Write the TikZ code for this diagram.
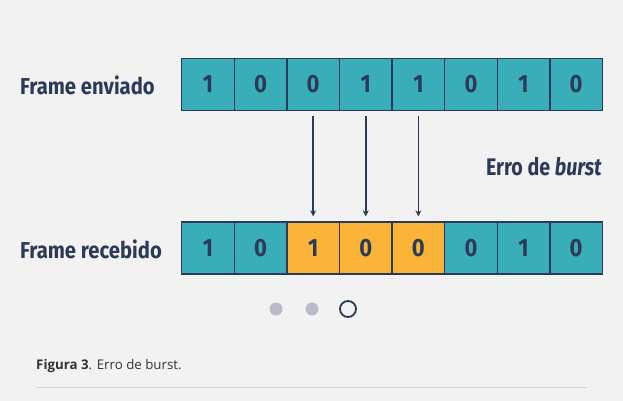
\documentclass[tikz,border=0pt]{standalone}
\usepackage{fontspec}
\setmainfont{Open Sans}
\newfontfamily\labfont[FakeStretch=0.88]{Fira Sans}
\newfontfamily\errfont[FakeStretch=0.82]{Fira Sans}
\usetikzlibrary{arrows.meta}
\definecolor{bg}{HTML}{F2F2F2}
\definecolor{teal}{HTML}{3AAEB8}
\definecolor{amber}{HTML}{FBB437}
\definecolor{navy}{HTML}{2B3A58}
\definecolor{dotgray}{HTML}{BABBC8}
\definecolor{rulegray}{HTML}{D6D6D6}
\definecolor{captxt}{HTML}{333333}
\tikzset{
  cell/.style={draw=navy, line width=1.3pt, minimum width=52.6pt, minimum height=52pt, inner sep=0pt, anchor=west,
    font=\labfont\bfseries\fontsize{25}{27}\selectfont, text=navy},
  okcell/.style={cell, fill=teal},
  errcell/.style={cell, fill=amber},
  rowlabel/.style={font=\labfont\bfseries\fontsize{23}{26}\selectfont, text=navy, anchor=west, inner sep=0pt},
  flow/.style={draw=navy, line width=1.5pt, -{Stealth[length=6pt,width=6pt]}},
  dot/.style={circle, fill=dotgray, minimum size=13pt, inner sep=0pt},
  curdot/.style={circle, draw=navy, line width=1.8pt, minimum size=16pt, inner sep=0pt}
}
\begin{document}
\begin{tikzpicture}[x=1pt,y=1pt]
\fill[bg] (0,0) rectangle (623,-401);
\useasboundingbox (0,0) rectangle (623,-401);
% top row
\foreach \v [count=\i] in {1,0,0,1,1,0,1,0} {
  \node[okcell] (t\i) at ({181+(\i-1)*52.6},-84.5) {\v};
}
% bottom row
\foreach \v/\s [count=\i] in {1/okcell,0/okcell,1/errcell,0/errcell,0/errcell,0/okcell,1/okcell,0/okcell} {
  \node[\s] (b\i) at ({181+(\i-1)*52.6},-248) {\v};
}
\node[rowlabel] (l1) at (20,-85.5) {Frame enviado};
\node[rowlabel] (l2) at (20,-249) {Frame recebido};
\node[font=\errfont\bfseries\fontsize{24}{27}\selectfont, text=navy, anchor=east, inner sep=0pt] (err) at (602,-167) {Erro de \textit{burst}};
\foreach \i in {3,4,5} {
  \draw[flow] ([yshift=-5pt]t\i.south) -- ([yshift=5pt]b\i.north);
}
\node[dot] (d1) at (276,-309) {};
\node[dot] (d2) at (312,-309) {};
\node[curdot] (d3) at (348,-309) {};
\node[anchor=west, inner sep=0pt, text=captxt, font=\fontsize{13.3}{16}\selectfont] (cap) at (36,-366) {\textbf{Figura 3}. Erro de burst.};
\coordinate (r1) at (36,-387);
\coordinate (r2) at (587,-387);
\draw[rulegray, line width=0.8pt] (r1) -- (r2);
\end{tikzpicture}
\end{document}
